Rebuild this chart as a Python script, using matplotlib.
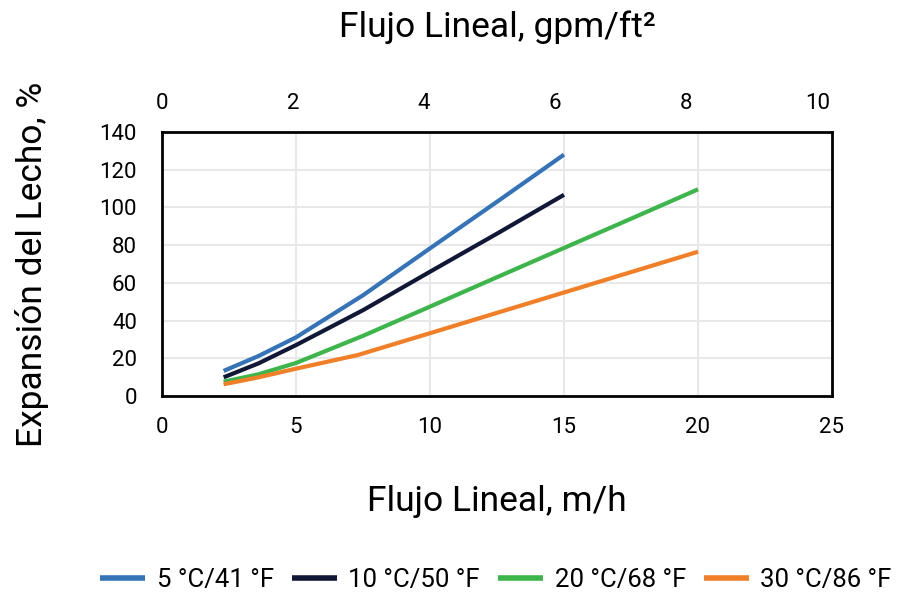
import matplotlib
matplotlib.use("Agg")
import matplotlib.pyplot as plt

plt.rcParams['font.family'] = ['Roboto', 'DejaVu Sans']

labels = ["5 °C/41 °F", "10 °C/50 °F", "20 °C/68 °F", "30 °C/86 °F"]
colors = ["#3473b7", "#111736", "#3cb54a", "#f07f27"]

x_5c = [2.3, 3.6, 5, 7.5, 10, 12.5, 15]
y_5c = [13.3, 21.2, 31.1, 53.4, 78.3, 103, 128]
x_10c = [2.3, 3.6, 5, 7.5, 10, 12.5, 15]
y_10c = [9.9, 17.3, 27.0, 45.5, 65.9, 86.1, 106.7]
x_20c = [2.3, 3.6, 5, 7.5, 10, 12.5, 15, 17.5, 20]
y_20c = [7.6, 11.5, 17.5, 31.9, 47.4, 63.0, 78.5, 94.0, 109.6]
x_30c = [2.3, 3.6, 5, 7.3, 10, 12.5, 15, 17.5, 20]
y_30c = [6.2, 9.9, 14.5, 21.7, 33.3, 44.1, 54.9, 65.7, 76.5]

xticks = [0, 5, 10, 15, 20, 25]
yticks = [0, 20, 40, 60, 80, 100, 120, 140]
top_ticks = [0, 2, 4, 6, 8, 10]
conv = 2.445  # m/h per gpm/ft2

fig = plt.figure(figsize=(9.08, 5.99), dpi=100)
ax = fig.add_axes([162/908, 1-396/599, (832-162)/908, (396-132)/599])

series = [(x_5c, y_5c), (x_10c, y_10c), (x_20c, y_20c), (x_30c, y_30c)]
for (xs, ys), lab, c in zip(series, labels, colors):
    ax.plot(xs, ys, color=c, lw=3, label=lab, solid_capstyle='butt', solid_joinstyle='round')

ax.set_xlim(0, 25)
ax.set_ylim(0, 140)
ax.set_xticks(xticks)
ax.set_yticks(yticks)
ax.grid(True, color='#e8e8e8', lw=1.5)
ax.set_axisbelow(True)
for s in ax.spines.values():
    s.set_linewidth(2)
    s.set_color('black')
ax.tick_params(length=0, labelsize=16)
ax.tick_params(axis='x', pad=15)
ax.tick_params(axis='y', pad=18)

ax.set_xlabel("Flujo Lineal, m/h", fontsize=25.5, labelpad=34)
ax.set_ylabel("Expansión del Lecho, %", fontsize=25.5, labelpad=36)

sec = ax.secondary_xaxis('top', functions=(lambda x: x / conv, lambda x: x * conv))
sec.set_xticks(top_ticks)
sec.tick_params(length=0, labelsize=16, pad=13)
sec.spines['top'].set_visible(False)
sec.set_xlabel("Flujo Lineal, gpm/ft²", fontsize=25.5, labelpad=40)

leg = fig.legend(loc='center', bbox_to_anchor=(496/908, 1-580/599), ncol=4, frameon=False,
                 fontsize=18.5, handlelength=1.75, columnspacing=0.7, handletextpad=0.45)
for ln in leg.get_lines():
    ln.set_linewidth(4)

fig.savefig("out.png", dpi=100)
